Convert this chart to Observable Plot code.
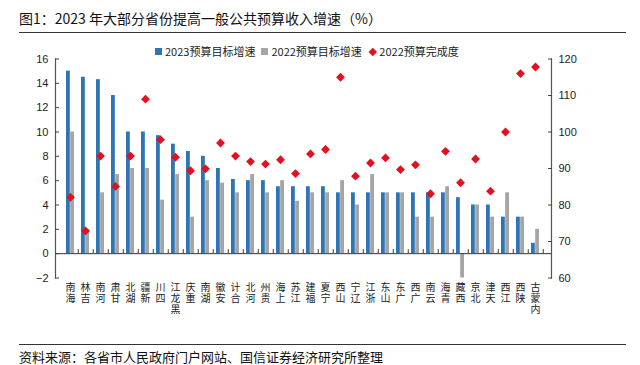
<!DOCTYPE html>
<html><head><meta charset="utf-8">
<script src="https://cdn.jsdelivr.net/npm/d3@7"></script>
<script src="https://cdn.jsdelivr.net/npm/@observablehq/plot@0.6"></script>
<style>
html,body{margin:0;padding:0;background:#fff;}
body{width:640px;height:365px;position:relative;overflow:hidden;font-family:"Noto Sans CJK SC","Liberation Sans",sans-serif;color:#111;}
#title{position:absolute;left:19px;top:9px;font-size:14px;line-height:18px;white-space:nowrap;}
.rule{position:absolute;left:19px;width:607px;height:0;border-top:1.2px solid #333;}
#chart{position:absolute;left:0;top:40px;}
#legend{position:absolute;left:155px;top:44px;font-size:11px;line-height:15px;white-space:nowrap;display:flex;align-items:center;color:#222;}
#legend .sw{display:inline-block;width:7px;height:7px;margin-right:3px;}
#legend .dia{display:inline-block;width:5.5px;height:5.5px;transform:rotate(45deg);margin:0 4px 0 2px;}
#legend .item{display:flex;align-items:center;margin-right:6px;}
#source{position:absolute;left:19px;top:348px;font-size:13px;line-height:17px;white-space:nowrap;}
</style>
</head><body>
<div id="title">图1：2023 年大部分省份提高一般公共预算收入增速（%）</div>
<div class="rule" style="top:32px"></div>
<div id="chart"></div>
<div id="legend"></div>
<div class="rule" style="top:344px"></div>
<div id="source">资料来源：各省市人民政府门户网站、国信证券经济研究所整理</div>
<script>
const cats = ["海南","吉林","河南","甘肃","湖北","新疆","四川","黑龙江","重庆","湖南","安徽","合计","河北","贵州","上海","江苏","福建","宁夏","山西","辽宁","浙江","山东","广东","广西","云南","青海","西藏","北京","天津","江西","陕西","内蒙古"];
const target2023 = [15, 14.5, 14.3, 13, 10, 10, 9.7, 9, 8.4, 8, 7, 6.1, 6, 6, 5.5, 5.5, 5.5, 5.5, 5, 5, 5, 5, 5, 5, 5, 5, 4.6, 4, 4, 3, 3, 0.85];
const target2022 = [10, 2, 5, 6.5, 7, 7, 4.4, 6.5, 3, 6, 5.8, 5, 6.5, 5, 6, 4.3, 5, 5, 6, 4, 6.5, 5, 5, 3, 3, 5.5, -2, 4, 3, 5, 3, 2];
const completion2022 = [82.1, 72.9, 93.4, 85.1, 93.4, 109, 97.9, 93.1, 89.4, 89.9, 97.0, 93.4, 91.9, 91.2, 92.4, 88.6, 94.0, 95.2, 115.0, 87.9, 91.5, 92.9, 89.7, 91.0, 83.1, 94.7, 86.1, 92.6, 83.8, 100, 116, 117.8];
const leftTicks = [-2, 0, 2, 4, 6, 8, 10, 12, 14, 16];
const rightTicks = [60, 70, 80, 90, 100, 110, 120];
const seriesNames = ["2023预算目标增速", "2022预算目标增速", "2022预算完成度"];
const BLUE = "#2E75B6", GRAY = "#A5A5A5", RED = "#E60F1E";

const rows = cats.map((c, i) => ({cat: c, a: target2023[i], b: target2022[i], c: completion2022[i]}));
const leftDomain = [-2, 16], rightDomain = [60, 120];
const toLeft = v => (v - rightDomain[0]) / (rightDomain[1] - rightDomain[0]) * (leftDomain[1] - leftDomain[0]) + leftDomain[0];
const fromLeft = y => (y - leftDomain[0]) / (leftDomain[1] - leftDomain[0]) * (rightDomain[1] - rightDomain[0]) + rightDomain[0];

const W = 640, H = 300, mL = 55, mR = 89, mT = 18.5, mB = 62.5;
const pI = 0.46, pO = 0.23;
const step = (W - mL - mR) / (cats.length - pI + 2 * pO);
const half = step * (1 - pI) / 2;

// Category labels: characters stacked, reading bottom-to-top (one axis row per character)
const rev = d => d.split("").reverse();
const charH = 11;
const labelRows = [0, 1, 2].map(k => Plot.axisX({
  tickSize: 0, tickPadding: 5.5, dy: k * charH,
  tickFormat: d => rev(d)[k] || "",
  fontFamily: '"Noto Sans CJK SC"', fontSize: 10, label: null, fill: "#222"
}));

const chart = Plot.plot({
  width: W, height: H, marginTop: mT, marginBottom: mB, marginLeft: mL, marginRight: mR,
  style: {fontFamily: '"Liberation Sans", Arial, sans-serif', fontSize: "11px", color: "#222", background: "transparent", overflow: "visible"},
  x: {domain: cats, paddingInner: pI, paddingOuter: pO, label: null},
  y: {domain: leftDomain, label: null},
  marks: [
    Plot.barY(rows, {x: "cat", y: "a", fill: BLUE, insetRight: half}),
    Plot.barY(rows, {x: "cat", y: "b", fill: GRAY, insetLeft: half}),
    Plot.ruleY([0], {stroke: "#333", strokeWidth: 1}),
    Plot.ruleX(cats, {x: d => d, y1: 0, y2: 0.33, dx: step / 2, stroke: "#333"}),
    Plot.frame({anchor: "left", stroke: "#555", strokeWidth: 1.2}),
    Plot.frame({anchor: "right", stroke: "#555", strokeWidth: 1.2}),
    Plot.axisY({ticks: leftTicks, tickSize: 4, dx: 4, tickFormat: () => "", label: null, stroke: "#444"}),
    Plot.axisY({ticks: leftTicks, tickSize: 0, tickPadding: 7, label: null}),
    Plot.axisY({anchor: "right", ticks: rightTicks.map(toLeft), tickSize: 4, dx: -4, tickFormat: () => "", label: null, stroke: "#444"}),
    Plot.axisY({anchor: "right", ticks: rightTicks.map(toLeft), tickSize: 0, tickPadding: 7, tickFormat: d => String(Math.round(fromLeft(d))), label: null}),
    ...labelRows,
    Plot.dot(rows, {x: "cat", y: d => toLeft(d.c), symbol: "diamond2", r: 4, fill: RED, stroke: null})
  ]
});
document.getElementById("chart").appendChild(chart);

const lg = document.getElementById("legend");
const colors = [BLUE, GRAY, RED];
seriesNames.forEach((n, i) => {
  const it = document.createElement("span");
  it.className = "item";
  const m = document.createElement("span");
  m.className = i === 2 ? "dia" : "sw";
  m.style.background = colors[i];
  it.appendChild(m);
  it.appendChild(document.createTextNode(n));
  lg.appendChild(it);
});
</script>
</body></html>
